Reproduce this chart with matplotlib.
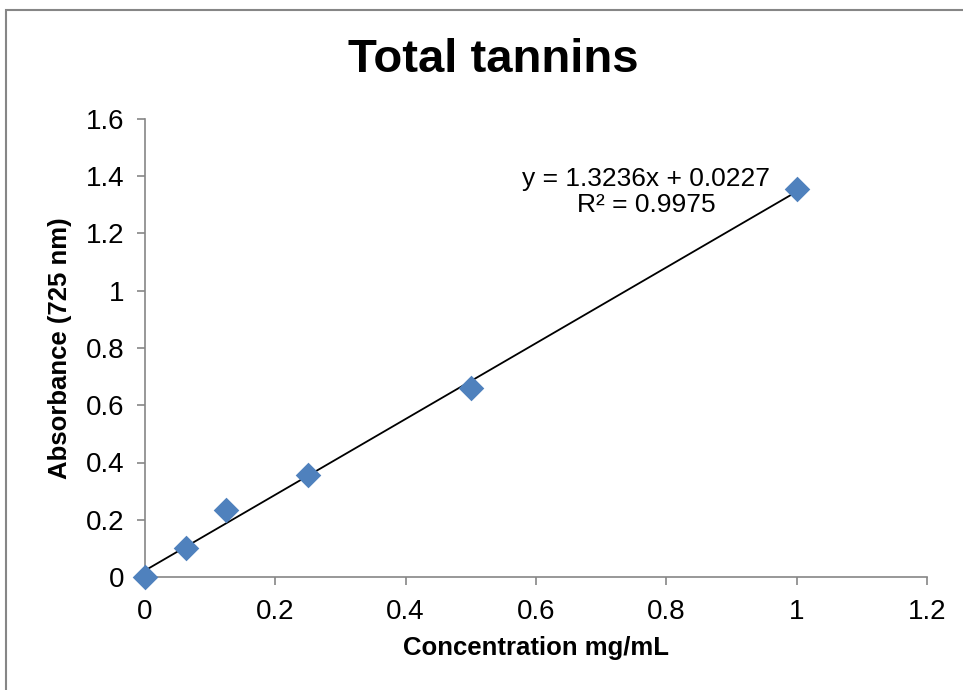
import matplotlib.pyplot as plt
import numpy as np
from matplotlib.patches import Rectangle

plt.rcParams['font.family'] = ['Liberation Sans', 'DejaVu Sans']

# data
conc = [0, 0.0625, 0.125, 0.25, 0.5, 1.0]
absorb = [0, 0.1, 0.235, 0.355, 0.66, 1.355]
slope = 1.3236
intercept = 0.0227
r2 = 0.9975

fig = plt.figure(figsize=(9.63, 6.9), dpi=100)
fig.patches.append(Rectangle((6 / 963, -0.01), 1.0, 1 - 10 / 690 + 0.01,
                             transform=fig.transFigure, fill=False,
                             edgecolor='#868686', linewidth=1.5))

ax = fig.add_axes([145 / 963, 113 / 690, 782 / 963, 458 / 690])

# trendline
xl = np.array([0, 1.0])
ax.plot(xl, slope * xl + intercept, color='black', linewidth=1.3, zorder=2)
ax.scatter(conc, absorb, marker='D', s=170, color='#4F81BD', zorder=3,
           linewidths=0, clip_on=False)

ax.set_xlim(0, 1.2)
ax.set_ylim(0, 1.6)
ax.set_xticks(np.arange(0, 1.21, 0.2))
ax.set_yticks(np.arange(0, 1.61, 0.2))
ax.set_xticklabels(['0', '0.2', '0.4', '0.6', '0.8', '1', '1.2'])
ax.set_yticklabels(['0', '0.2', '0.4', '0.6', '0.8', '1', '1.2', '1.4', '1.6'])

for s in ['top', 'right']:
    ax.spines[s].set_visible(False)
for s in ['left', 'bottom']:
    ax.spines[s].set_color('#868686')
    ax.spines[s].set_linewidth(1.2)
ax.tick_params(axis='both', colors='#868686', labelcolor='black',
               labelsize=20, length=6, width=1.2)
ax.tick_params(axis='x', pad=10)
ax.tick_params(axis='y', pad=9)

ax.set_xlabel('Concentration mg/mL', fontsize=18.5, fontweight='bold', labelpad=8)
ax.set_ylabel('Absorbance (725 nm)', fontsize=18.5, fontweight='bold', labelpad=10)
fig.text(0.512, 0.913, 'Total tannins', fontsize=34, fontweight='bold',
         ha='center', va='center')

ax.text(0.769, 1.345, f'y = {slope}x + {intercept}\nR² = {r2}',
        fontsize=19, ha='center', va='center', linespacing=1.1)

fig.savefig('out.png', dpi=100)
